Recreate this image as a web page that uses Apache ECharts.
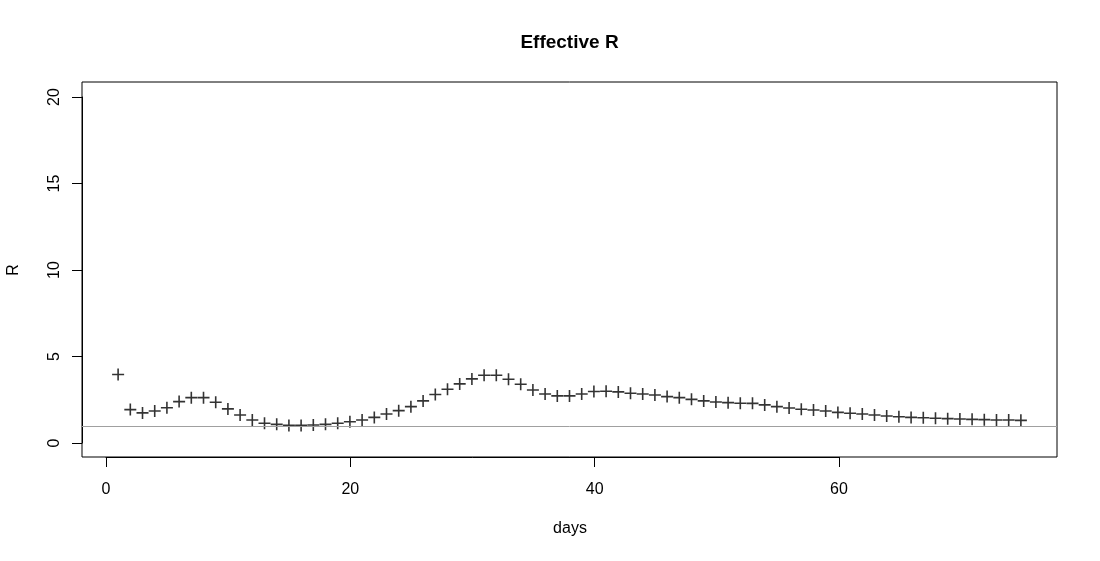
<!DOCTYPE html>
<html>
<head>
<meta charset="utf-8">
<script src="https://cdn.jsdelivr.net/npm/echarts@6/dist/echarts.min.js"></script>
<style>
html,body{margin:0;padding:0;background:#fff;}
#chart{width:1100px;height:561px;}
</style>
</head>
<body>
<div id="chart"></div>
<script>
// Data
var days = [];
for (var i = 1; i <= 75; i++) days.push(i);
var rValues = [
  3.95, 1.93, 1.74, 1.85, 2.04, 2.39, 2.62, 2.62, 2.35, 1.97,
  1.62, 1.33, 1.14, 1.08, 1.02, 1.02, 1.04, 1.08, 1.14, 1.23,
  1.33, 1.48, 1.68, 1.87, 2.10, 2.43, 2.80, 3.10, 3.41, 3.70,
  3.91, 3.91, 3.68, 3.39, 3.06, 2.83, 2.72, 2.72, 2.83, 2.97,
  2.99, 2.95, 2.87, 2.83, 2.77, 2.68, 2.62, 2.52, 2.43, 2.37,
  2.33, 2.30, 2.29, 2.20, 2.10, 2.02, 1.95, 1.91, 1.85, 1.77,
  1.72, 1.68, 1.62, 1.56, 1.52, 1.48, 1.46, 1.43, 1.41, 1.39,
  1.37, 1.35, 1.33, 1.33, 1.31
];
var xTicks = [0, 20, 40, 60];
var yTicks = [0, 5, 10, 15, 20];
var refLine = 1;

var points = days.map(function (d, i) { return [d, rValues[i]]; });
var font = 'Liberation Sans, Arial, Helvetica, sans-serif';
var plus = 'path://M5.2,0H6.8V5.2H12V6.8H6.8V12H5.2V6.8H0V5.2H5.2Z';

var chart = echarts.init(document.getElementById('chart'));
chart.setOption({
  animation: false,
  backgroundColor: '#fff',
  grid: [
    { left: 82, top: 82, width: 975, height: 375, show: true, borderColor: '#000', borderWidth: 1, backgroundColor: 'transparent' },
    { left: 106, top: 82, width: 733, height: 375 },
    { left: 82, top: 97, width: 975, height: 346 }
  ],
  xAxis: [
    { gridIndex: 0, type: 'value', min: -1.96, max: 77.96, show: false },
    { gridIndex: 1, type: 'value', min: xTicks[0], max: xTicks[xTicks.length - 1], interval: 20,
      axisLine: { show: true, lineStyle: { color: '#000', width: 1 } },
      axisTick: { show: true, length: 10, lineStyle: { color: '#000', width: 1 } },
      axisLabel: { show: true, margin: 25, fontSize: 16, fontFamily: font, color: '#000' },
      splitLine: { show: false } },
    { gridIndex: 2, type: 'value', min: 0, max: 1, show: false }
  ],
  yAxis: [
    { gridIndex: 0, type: 'value', min: -0.8, max: 20.8, show: false },
    { gridIndex: 1, type: 'value', min: 0, max: 1, show: false },
    { gridIndex: 2, type: 'value', min: yTicks[0], max: yTicks[yTicks.length - 1], interval: 5,
      axisLine: { show: true, lineStyle: { color: '#000', width: 1 } },
      axisTick: { show: true, length: 10, lineStyle: { color: '#000', width: 1 } },
      axisLabel: { show: true, margin: 27, rotate: 90, fontSize: 16, fontFamily: font, color: '#000', verticalAlign: 'middle' },
      splitLine: { show: false } }
  ],
  graphic: [
    { type: 'text', x: 569.5, y: 43, style: { text: 'Effective R', font: 'bold 19px ' + font, fill: '#000', textAlign: 'center', textVerticalAlign: 'middle' } },
    { type: 'text', x: 570, y: 529, style: { text: 'days', font: '16px ' + font, fill: '#000', textAlign: 'center', textVerticalAlign: 'middle' } },
    { type: 'text', x: 14, y: 270, rotation: Math.PI / 2, style: { text: 'R', font: '16px ' + font, fill: '#000', textAlign: 'center', textVerticalAlign: 'middle' } }
  ],
  series: [
    {
      type: 'scatter',
      xAxisIndex: 0, yAxisIndex: 0,
      data: points,
      symbol: plus,
      symbolSize: 12,
      itemStyle: { color: '#000' },
      markLine: {
        silent: true,
        symbol: ['none', 'none'],
        label: { show: false },
        lineStyle: { color: '#a0a0a0', width: 1, type: 'solid' },
        data: [{ yAxis: refLine }]
      }
    }
  ]
});
</script>
</body>
</html>
